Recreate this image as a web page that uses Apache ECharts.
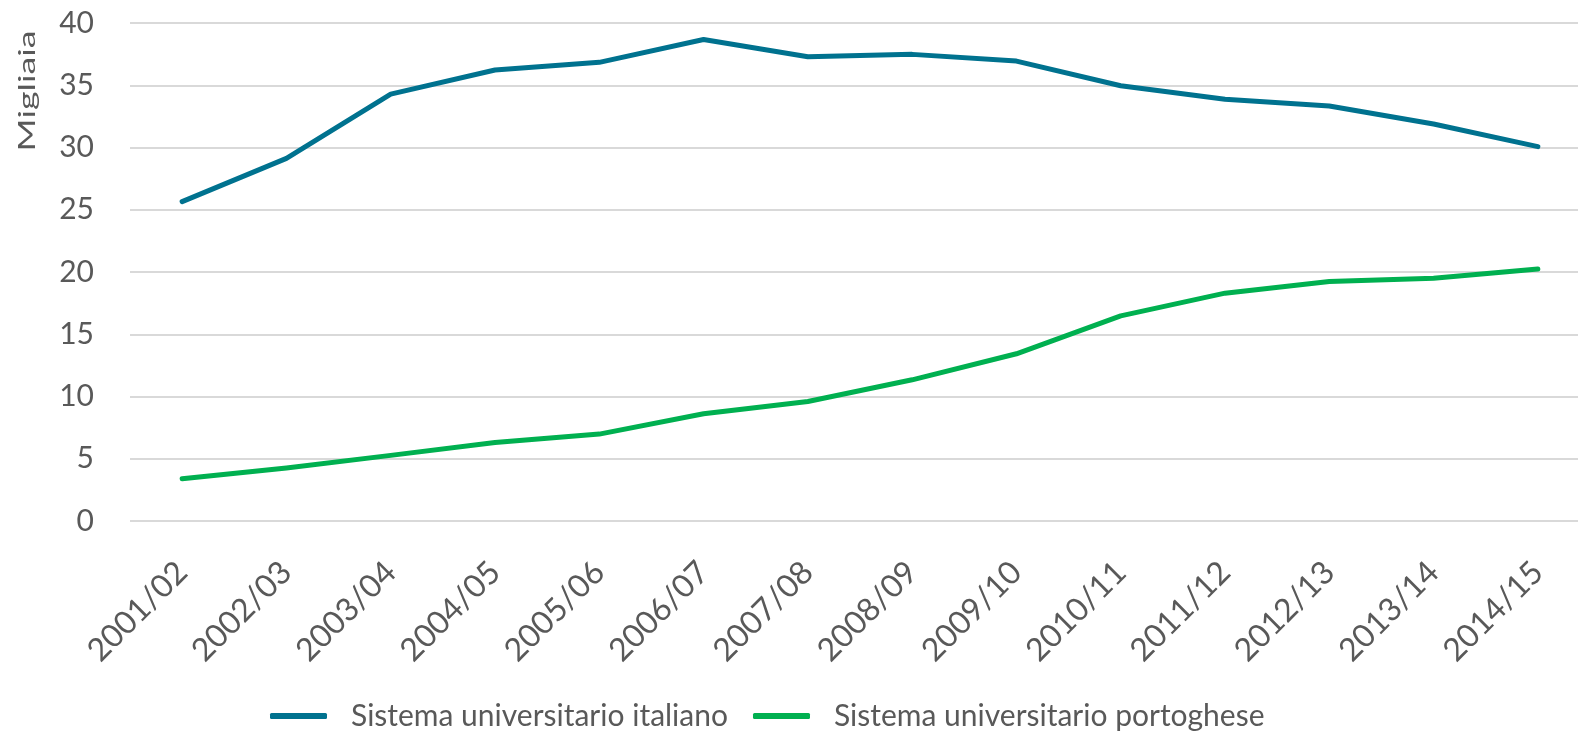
<!DOCTYPE html>
<html>
<head>
<meta charset="utf-8">
<script src="https://cdn.jsdelivr.net/npm/echarts@6/dist/echarts.min.js"></script>
<style>
html,body{margin:0;padding:0;background:#fff;}
#chart{width:1578px;height:735px;}
</style>
</head>
<body>
<div id="chart"></div>
<script>
const categories = ["2001/02","2002/03","2003/04","2004/05","2005/06","2006/07","2007/08","2008/09","2009/10","2010/11","2011/12","2012/13","2013/14","2014/15"];
const italiano = [25.65, 29.13, 34.29, 36.22, 36.84, 38.68, 37.29, 37.48, 36.94, 34.96, 33.87, 33.33, 31.89, 30.07];
const portoghese = [3.39, 4.25, 5.27, 6.31, 6.98, 8.61, 9.6, 11.34, 13.43, 16.48, 18.3, 19.23, 19.5, 20.25];
const seriesNames = ["Sistema universitario italiano", "Sistema universitario portoghese"];
const yTicks = {min: 0, max: 40, interval: 5};
const yName = "Migliaia";

const FONT = "Lato";
const TXT = "#595959";
const chart = echarts.init(document.getElementById('chart'));
chart.setOption({
  animation: false,
  backgroundColor: '#ffffff',
  textStyle: {fontFamily: FONT},
  grid: {left: 130, width: 1460, top: 23, bottom: 214, containLabel: false, outerBoundsMode: 'none'},
  legend: {
    left: 265, top: 696,
    icon: 'roundRect', itemWidth: 57, itemHeight: 6, itemGap: 25,
    textStyle: {fontFamily: FONT, fontSize: 30, color: TXT, padding: [0, 0, 0, 19]},
    data: seriesNames
  },
  graphic: [{
    type: 'text', x: 28, y: 91,
    rotation: Math.PI / 2,
    scaleX: 1.55, scaleY: 1,
    style: {text: yName, font: '23px ' + FONT, fill: TXT, align: 'center', verticalAlign: 'middle', textAlign: 'center', textVerticalAlign: 'middle'}
  }],
  xAxis: {
    type: 'category', data: categories, boundaryGap: true,
    axisLine: {show: false}, axisTick: {show: false},
    axisLabel: {rotate: 45, margin: 46, fontSize: 32, color: TXT, fontFamily: FONT, interval: 0}
  },
  yAxis: {
    type: 'value', min: yTicks.min, max: yTicks.max, interval: yTicks.interval,
    axisLine: {show: false}, axisTick: {show: false},
    axisLabel: {margin: 36, fontSize: 30, color: TXT, fontFamily: FONT},
    splitLine: {lineStyle: {color: '#d9d9d9', width: 2}}
  },
  series: [
    {name: seriesNames[0], type: 'line', data: italiano, symbol: 'none',
     lineStyle: {color: '#00728f', width: 5, cap: 'round', join: 'round'}, itemStyle: {color: '#00728f'}},
    {name: seriesNames[1], type: 'line', data: portoghese, symbol: 'none',
     lineStyle: {color: '#00b050', width: 5, cap: 'round', join: 'round'}, itemStyle: {color: '#00b050'}}
  ]
});
</script>
</body>
</html>
